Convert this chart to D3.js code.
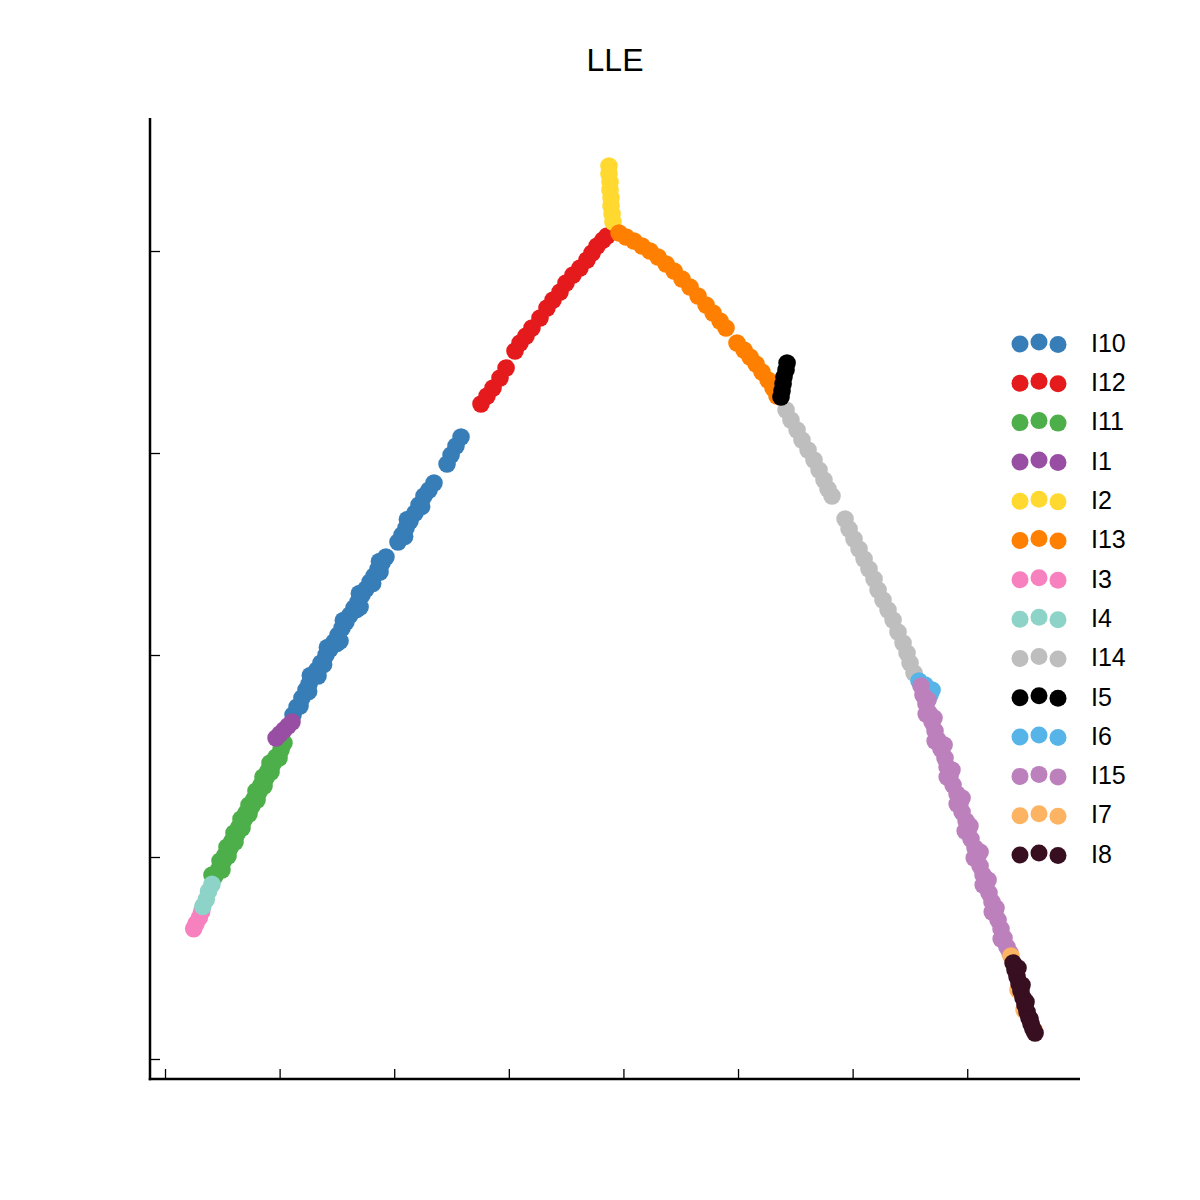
<!DOCTYPE html>
<html>
<head>
<meta charset="utf-8">
<script src="https://cdn.jsdelivr.net/npm/d3@7"></script>
<style>
  html, body { margin: 0; padding: 0; background: #ffffff; }
  svg { display: block; font-family: "Liberation Sans", Arial, sans-serif; }
</style>
</head>
<body>
<svg id="chart" width="1200" height="1200"></svg>
<script>
// LLE embedding coordinates (units of 1e-3)
const clusters = ["I10", "I12", "I11", "I1", "I2", "I13", "I3", "I4", "I14", "I5", "I6", "I15", "I7", "I8"];
const colors = ["#377eb8", "#e41a1c", "#4daf4a", "#984ea3", "#ffd92f", "#ff7f00", "#f781bf", "#8dd3c7", "#bebebe", "#000000", "#56b4e9", "#bc80bd", "#fdb462", "#370f20"];

const xTicks = [-30, -20, -10, 0, 10, 20, 30, 40];
const yTicks = [-40, -20, 0, 20, 40];

const I10 = [[-18.83,-5.94],[-18.48,-5.15],[-18.22,-5.05],[-18.05,-4.26],[-17.70,-3.47],[-17.47,-3.62],[-17.43,-2.87],[-17.09,-2.18],[-17.32,-2.03],[-16.65,-2.08],[-16.74,-1.49],[-16.39,-0.79],[-16.16,-0.94],[-15.95,0.00],[-15.60,0.59],[-15.83,0.74],[-15.25,1.29],[-15.02,1.14],[-14.73,1.39],[-14.90,1.98],[-14.55,2.67],[-14.21,3.27],[-14.44,3.42],[-13.86,3.96],[-13.51,4.65],[-13.28,4.50],[-12.98,4.75],[-13.16,5.25],[-12.81,5.94],[-13.04,6.09],[-12.46,6.53],[-12.11,7.23],[-11.88,7.08],[-11.76,7.82],[-11.24,8.22],[-11.41,8.51],[-11.06,9.11],[-11.29,9.26],[-10.72,9.70],[-9.67,11.19],[-9.32,11.88],[-9.09,11.73],[-8.97,12.57],[-8.62,13.27],[-8.85,13.42],[-8.18,14.06],[-7.84,14.85],[-7.61,14.70],[-7.40,15.74],[-6.96,16.34],[-6.53,17.03],[-5.39,18.91],[-5.04,19.80],[-4.61,20.69],[-4.17,21.58]];
const I12 = [[-2.43,24.85],[-1.90,25.64],[-1.38,26.44],[-0.77,27.43],[-0.24,28.42],[0.54,30.10],[0.98,30.89],[1.50,31.58],[2.02,32.38],[2.72,33.37],[3.33,34.36],[3.86,35.15],[4.47,35.94],[4.99,36.83],[5.60,37.62],[6.21,38.32],[6.82,39.11],[7.26,39.80],[7.70,40.50],[8.22,41.09],[8.57,41.49]];
const I11 = [[-25.64,-21.88],[-25.90,-21.78],[-25.29,-21.19],[-25.03,-21.29],[-24.94,-20.50],[-25.20,-20.40],[-24.76,-19.80],[-24.50,-19.90],[-24.33,-19.11],[-24.59,-19.01],[-24.15,-18.42],[-23.89,-18.52],[-23.72,-17.72],[-23.98,-17.62],[-23.54,-17.03],[-23.28,-17.13],[-23.11,-16.34],[-23.37,-16.24],[-22.93,-15.64],[-22.67,-15.74],[-22.41,-14.95],[-22.67,-14.85],[-22.23,-14.26],[-21.97,-14.36],[-21.80,-13.56],[-22.06,-13.46],[-21.62,-12.87],[-21.36,-12.97],[-21.19,-12.18],[-21.45,-12.08],[-21.01,-11.49],[-20.75,-11.59],[-20.58,-10.79],[-20.84,-10.69],[-20.31,-10.10],[-20.05,-10.20],[-19.88,-9.41],[-19.62,-8.71]];
const I1 = [[-20.31,-8.22],[-19.97,-7.82],[-19.62,-7.43],[-19.27,-7.03],[-18.92,-6.63]];
const I2 = [[8.74,48.42],[8.74,47.62],[8.83,46.83],[8.83,46.04],[8.92,45.25],[8.92,44.46],[9.01,43.66],[9.09,42.87]];
const I13 = [[9.62,41.78],[10.23,41.39],[10.92,40.99],[11.62,40.50],[12.32,40.00],[13.02,39.41],[13.72,38.71],[14.42,38.02],[15.11,37.23],[15.81,36.44],[16.51,35.54],[17.21,34.65],[17.82,33.86],[18.43,33.07],[18.95,32.38],[19.91,30.89],[20.52,30.20],[21.05,29.50],[21.57,28.81],[22.09,28.02],[22.62,27.23],[23.05,26.44],[23.40,25.64]];
const I3 = [[-27.5,-27.1],[-27.3,-26.6],[-27.0,-26.0],[-26.8,-25.4]];
const I4 = [[-26.7,-24.9],[-26.4,-24.2],[-26.2,-23.4],[-25.9,-22.7]];
const I14 = [[24.19,24.26],[24.62,23.27],[25.15,22.28],[25.58,21.29],[26.11,20.30],[26.63,19.31],[27.07,18.32],[27.50,17.33],[27.85,16.44],[28.20,15.74],[29.34,13.47],[29.69,12.48],[30.12,11.49],[30.56,10.50],[31.00,9.50],[31.43,8.51],[31.87,7.52],[32.22,6.44],[32.65,5.45],[33.09,4.46],[33.53,3.47],[33.96,2.28],[34.40,1.19],[34.75,0.20],[35.01,-0.79],[35.36,-1.78]];
const I5 = [[24.28,28.91],[24.19,28.22],[24.01,27.52],[23.93,26.83],[23.84,26.14],[23.75,25.54]];
const I6 = [[35.79,-2.57],[36.32,-2.97],[36.93,-3.47],[36.75,-3.96]];
const I15 = [[35.97,-3.07],[36.14,-3.96],[36.58,-4.46],[36.40,-4.85],[36.67,-5.74],[36.42,-5.84],[37.10,-6.24],[36.93,-6.63],[37.19,-7.52],[37.45,-8.42],[37.20,-8.52],[37.98,-8.91],[37.71,-9.31],[38.06,-10.20],[38.24,-11.09],[38.67,-11.39],[38.50,-11.98],[38.25,-12.08],[38.76,-12.87],[39.11,-13.76],[39.55,-14.16],[39.37,-14.65],[39.12,-14.75],[39.55,-15.54],[39.90,-16.44],[40.24,-16.93],[40.07,-17.33],[39.82,-17.43],[40.33,-18.22],[40.68,-19.11],[41.12,-19.50],[40.86,-20.00],[40.61,-20.10],[41.12,-20.89],[41.38,-21.78],[41.82,-22.28],[41.64,-22.67],[41.39,-22.77],[41.90,-23.56],[42.16,-24.46],[42.51,-25.05],[42.43,-25.35],[42.18,-25.45],[42.69,-26.24],[42.95,-27.13],[43.21,-28.02],[42.96,-28.12],[43.47,-28.91],[43.73,-29.50]];
const I7 = [[43.82,-29.80],[44.43,-33.17],[44.96,-35.15],[45.83,-37.13]];
const I8 = [[44.00,-30.50],[44.43,-30.99],[44.17,-31.19],[44.35,-31.88],[44.52,-32.57],[44.78,-32.67],[44.69,-33.27],[44.87,-33.96],[45.13,-34.36],[45.04,-34.65],[45.22,-35.35],[45.39,-35.94],[45.48,-36.04],[45.57,-36.53],[45.74,-37.03],[45.92,-37.43]];

const seriesPoints = [I10, I12, I11, I1, I2, I13, I3, I4, I14, I5, I6, I15, I7, I8];

const svg = d3.select("#chart");
const x = d3.scaleLinear().domain([-31.31, 49.84]).range([150, 1080]);
const y = d3.scaleLinear().domain([-41.98, 53.17]).range([1079, 118]);

// title
svg.append("text")
  .attr("x", 615).attr("y", 71)
  .attr("text-anchor", "middle")
  .style("font-size", "32px")
  .style("fill", "#000")
  .text("LLE");

// points, drawn in legend order
const data = [];
seriesPoints.forEach((pts, i) => pts.forEach(p => data.push({c: i, x: p[0], y: p[1]})));
svg.append("g").selectAll("circle").data(data).join("circle")
  .attr("cx", d => x(d.x))
  .attr("cy", d => y(d.y))
  .attr("r", 8.8)
  .attr("fill", d => colors[d.c]);

// axes
const xAxis = d3.axisBottom(x).tickValues(xTicks).tickSizeInner(-10).tickSizeOuter(0).tickFormat("");
const yAxis = d3.axisLeft(y).tickValues(yTicks).tickSizeInner(-10).tickSizeOuter(0).tickFormat("");
const gx = svg.append("g").attr("transform", "translate(0,1079)").call(xAxis);
const gy = svg.append("g").attr("transform", "translate(150,0)").call(yAxis);
[gx, gy].forEach(g => {
  g.select(".domain").attr("stroke", "#000").attr("stroke-width", 2.5);
  g.selectAll(".tick line").attr("stroke", "#000").attr("stroke-width", 1.3);
});
// extend axes to meet at the corner
gx.select(".domain").attr("d", `M${148.75},0H1080`);
gy.select(".domain").attr("d", `M0,${y.range()[1]}V1080.25`);

// legend
const legend = svg.append("g");
const rowY = d3.scalePoint().domain(clusters).range([343, 854]);
const dotOffsets = [[-19, 1], [0, -1], [19, 1.5]];
clusters.forEach((name, i) => {
  const g = legend.append("g").attr("transform", `translate(1039,${rowY(name)})`);
  dotOffsets.forEach(o => g.append("circle").attr("cx", o[0]).attr("cy", o[1]).attr("r", 8.5).attr("fill", colors[i]));
  g.append("text").attr("x", 52).attr("y", 0).attr("dy", "0.35em")
    .style("font-size", "25px").style("fill", "#000").text(name);
});
</script>
</body>
</html>
